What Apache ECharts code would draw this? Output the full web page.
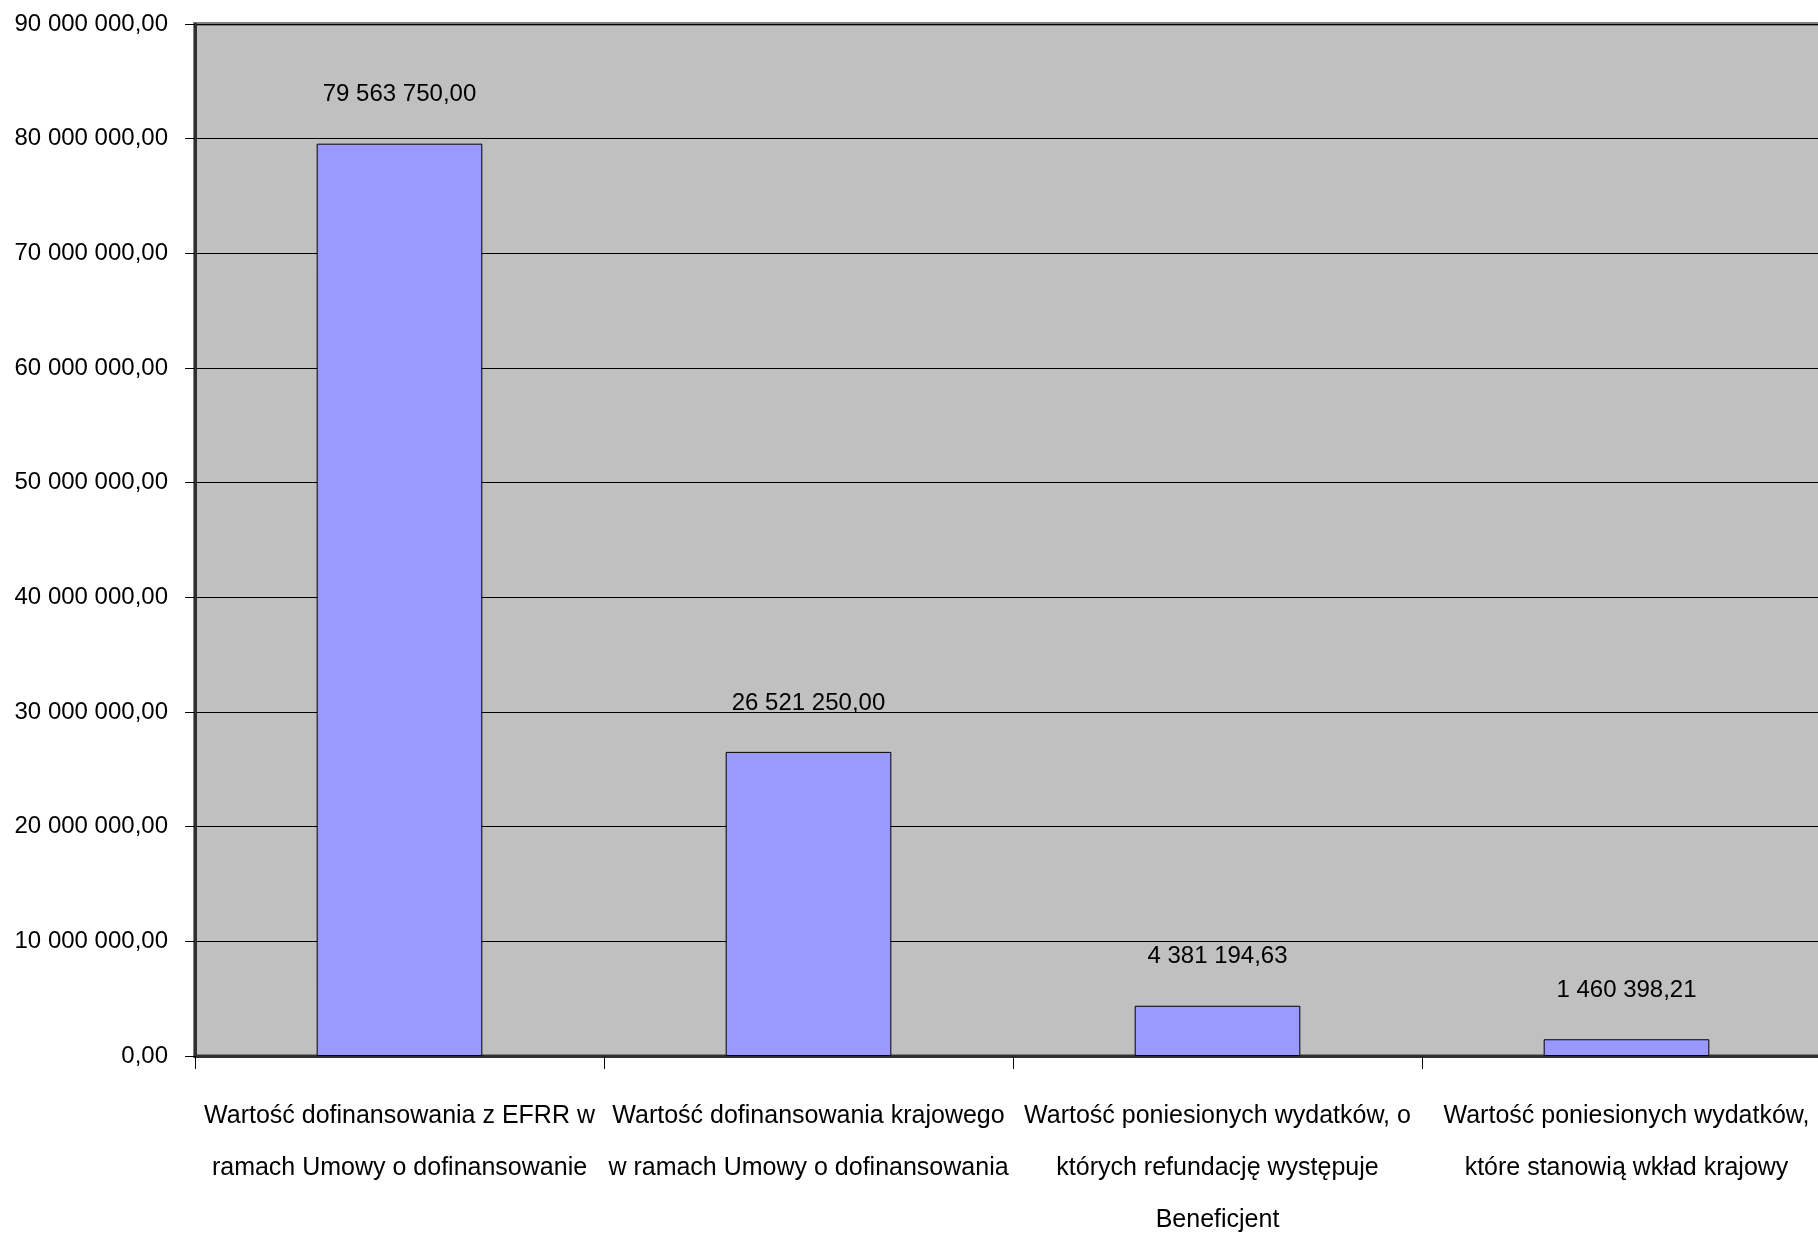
<!DOCTYPE html>
<html>
<head>
<meta charset="utf-8">
<script src="https://cdn.jsdelivr.net/npm/echarts@6/dist/echarts.min.js"></script>
<style>
html,body{margin:0;padding:0;background:#fff;}
#chart{width:1818px;height:1233px;}
</style>
</head>
<body>
<div id="chart"></div>
<script>
const categories = [
  'Wartość dofinansowania z EFRR w\nramach Umowy o dofinansowanie',
  'Wartość dofinansowania krajowego\nw ramach Umowy o dofinansowania',
  'Wartość poniesionych wydatków, o\nktórych refundację występuje\nBeneficjent',
  'Wartość poniesionych wydatków,\nktóre stanowią wkład krajowy'
];
const values = [79563750.00, 26521250.00, 4381194.63, 1460398.21];
const yMin = 0, yMax = 90000000, yStep = 10000000;

function fmt(v) {
  const s = Number(v).toFixed(2);
  const parts = s.split('.');
  const intPart = parts[0].replace(/\B(?=(\d{3})+(?!\d))/g, ' ');
  return intPart + ',' + parts[1];
}

const FONT = "'Liberation Sans', Arial, sans-serif";
const chart = echarts.init(document.getElementById('chart'), null, {renderer: 'canvas'});
chart.setOption({
  animation: false,
  backgroundColor: '#ffffff',
  grid: {
    left: 195, top: 24, right: -13, bottom: 177,
    outerBoundsMode: 'none',
    containLabel: false,
    show: true, backgroundColor: '#c0c0c0',
    borderColor: '#808080', borderWidth: 4
  },
  xAxis: {
    type: 'category',
    data: categories,
    axisLine: {show: true, lineStyle: {color: '#303030', width: 3}},
    axisTick: {show: true, length: 13, lineStyle: {color: '#000', width: 1}},
    axisLabel: {
      color: '#000', fontFamily: FONT, fontSize: 25, lineHeight: 52,
      margin: 34, interval: 0, align: 'center'
    },
    splitLine: {show: false}
  },
  yAxis: {
    type: 'value',
    min: yMin, max: yMax, interval: yStep,
    axisLine: {show: true, lineStyle: {color: '#303030', width: 3}},
    axisTick: {show: true, length: 10, lineStyle: {color: '#000', width: 1}},
    axisLabel: {color: '#000', fontFamily: FONT, fontSize: 24, margin: 27, formatter: fmt},
    splitLine: {show: true, lineStyle: {color: '#000', width: 1}}
  },
  series: [{
    type: 'bar',
    data: values,
    barWidth: '40.5%',
    itemStyle: {color: '#9999ff', borderColor: '#000', borderWidth: 1},
    label: {
      show: true, position: 'top', distance: 37,
      color: '#000', fontFamily: FONT, fontSize: 24,
      formatter: p => fmt(p.value)
    }
  }]
});
</script>
</body>
</html>
